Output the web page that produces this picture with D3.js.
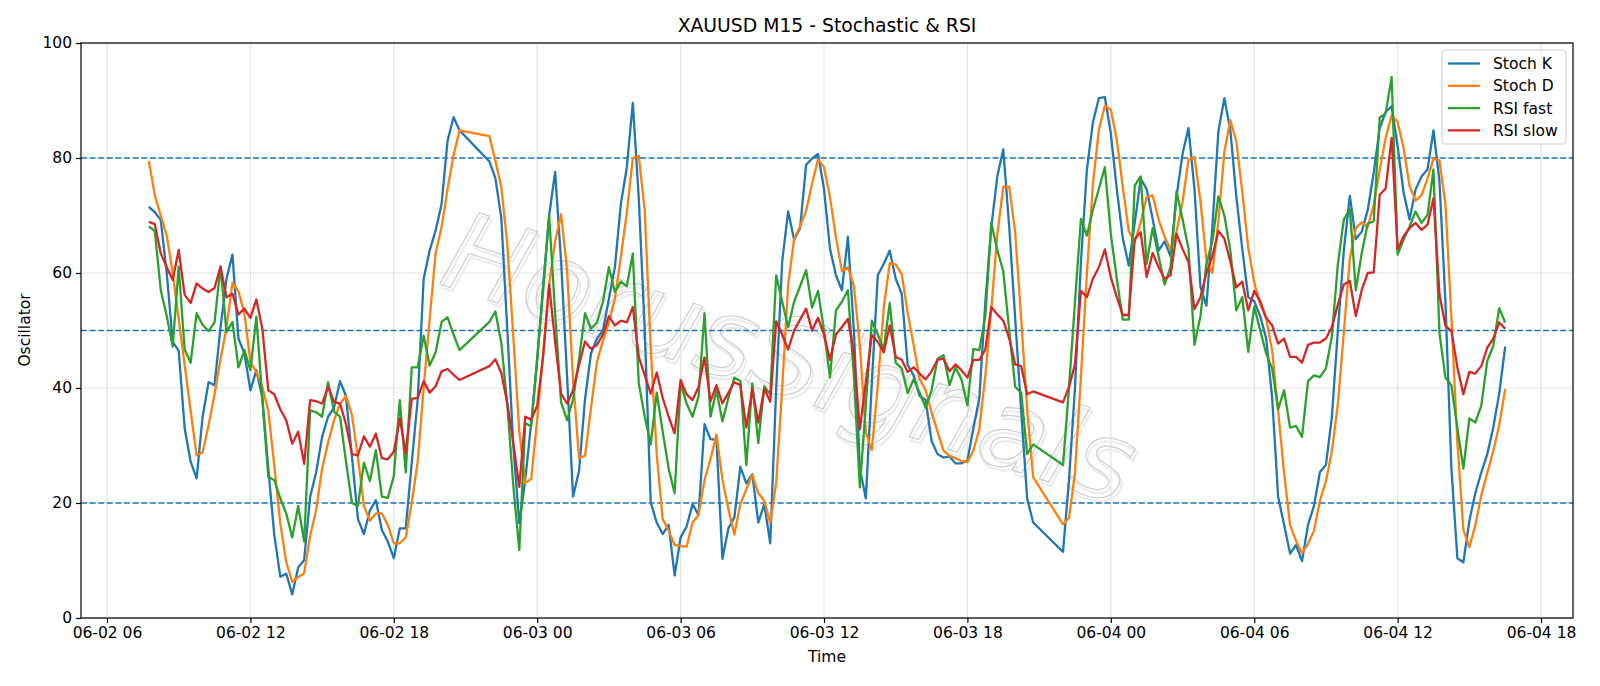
<!DOCTYPE html>
<html>
<head>
<meta charset="utf-8">
<script src="https://cdn.jsdelivr.net/npm/d3@7"></script>
<style>
  html, body { margin: 0; padding: 0; background: #fff; }
  svg { display: block; font-family: "DejaVu Sans", sans-serif; }
</style>
</head>
<body>
<svg id="chart"></svg>
<script>
// 15 minute bars, the market break (21:00 - 21:45) is missing
const segments = [
    ["2025-06-02 07:45", "2025-06-02 20:45"],
    ["2025-06-02 22:00", "2025-06-03 20:45"],
    ["2025-06-03 22:00", "2025-06-04 16:30"]
];

const levels = [20, 50, 80];
const yTicks = [0, 20, 40, 60, 80, 100];
const seriesNames = ["Stoch K", "Stoch D", "RSI fast", "RSI slow"];
const colors = ["#1f77b4", "#ff7f0e", "#2ca02c", "#d62728"];

const stochK = [
    71.5, 70.6, 69.2, 60, 48, 46.5, 33, 27.2, 24.3, 35,
    41, 40.5, 50.5, 59, 63.2, 48.6, 46, 39.6, 43.1, 38.3,
    26, 14.4, 7.2, 7.7, 4.1, 8.8, 10.1, 21.1, 25.3, 31.5,
    35, 36.6, 41.2, 38.6, 28, 17.2, 14.6, 18.7, 20.5, 15.3,
    13.3, 10.4, 15.6, 15.6, 27, 38, 59, 63.9, 67.4, 72,
    83, 87.1, 84.8,
    79.4, 76.5, 69.5, 50, 30, 16.5, 24, 34, 45, 58,
    70, 77.6, 62, 42, 21.1, 25.6, 38, 46, 48.6, 50,
    55.5, 61, 72, 78.4, 89.6, 73, 50, 20.1, 16.6, 14.6,
    16.2, 7.4, 14, 15.9, 19.8, 17.9, 33.7, 31.1, 31, 10.3,
    15.6, 17.5, 26.3, 23.4, 25, 16.6, 19.8, 13, 40, 62,
    70.7, 65.8, 67.8, 78.8, 79.9, 80.7, 74.6, 64.2, 59.6, 57,
    66.3, 50, 26, 20.8, 40.8, 59.6, 61.6, 63.9, 59, 56.4,
    44, 42.2, 38.6, 37.9, 30.8, 28.5, 27.9, 28.1, 26.9, 26.9,
    27.4, 33, 38.3, 55, 68, 76.8, 81.5, 68, 52, 36,
    20.8, 16.6,
    11.5, 24, 40, 62, 78, 86.2, 90.4, 90.6, 84.3, 74.6,
    66.1, 61.3, 68.7, 76.4, 74.6, 69.4, 63.9, 65.5, 62.9, 73.3,
    80.7, 85.2, 74.6, 57.6, 54.3, 68.1, 84.6, 90.4, 84.9, 73.3,
    64.2, 55.8, 55.1, 52.5, 48.6, 38.3, 21.1, 16.2, 11.2, 12.7,
    9.9, 16.2, 19.5, 25.4, 26.6, 35, 50, 64, 73.4, 65.9,
    67.2, 71, 77.4, 85.2, 88, 89, 82, 74, 69.3, 74.5,
    76.8, 78, 84.8, 76, 55, 26, 10.4, 9.7, 16.9, 21.7,
    25.3, 28.5, 33.1, 39, 47.2
];

const stochD = [
    79.5, 73.5, 70, 66.5, 60, 52, 44, 36, 28.3, 28.8,
    33.5, 38.9, 45, 50.5, 58.3, 56.8, 53, 44.5, 42.8, 40.2,
    36, 26.5, 16.5, 9.7, 6.3, 7.1, 7.8, 14.3, 18.8, 26,
    30.5, 34.4, 37.3, 38.6, 35.3, 27.9, 19.5, 16.9, 18.2, 18.2,
    16.2, 13, 13, 14, 20, 27.2, 40, 52, 63.5, 68,
    74.6, 80.5, 84.8,
    83.8, 79.5, 74.9, 65, 49, 32.5, 23.5, 24.2, 34.5, 46,
    58, 65.5, 70.2, 60.5, 41.5, 27.8, 28.2, 36.5, 44.5, 48.2,
    51.4, 55.5, 62.8, 70.5, 80, 80.4, 70.8, 47, 28.5, 17.2,
    15.2, 12.7, 12.5, 12.4, 16.6, 17.9, 24, 27.6, 31.9, 24.1,
    18.9, 14.5, 19.8, 22.4, 24.9, 21.7, 20.4, 16.5, 23.5, 40,
    58, 66, 68.1, 70.8, 75.5, 79.8, 78.4, 73.2, 66.2, 60.3,
    61, 57.8, 47.4, 32.3, 29.2, 40.4, 54, 61.7, 61.5, 59.8,
    53.1, 47.5, 41.6, 39.6, 35.8, 32.4, 29.1, 28.2, 27.8, 27.3,
    27.1, 29.1, 32.9, 42.1, 53.8, 66.6, 75, 75, 67, 52,
    36.3, 24.5,
    16.3, 17.4, 25.2, 42, 60, 75.4, 84.9, 89.1, 88.4, 83.2,
    75, 67.3, 65.4, 68.8, 73.2, 73.5, 69.3, 66.3, 64.1, 67.2,
    72.3, 79.7, 80.2, 72.5, 62.2, 60, 69, 81, 86.6, 82.9,
    74.1, 64.4, 58.4, 54.5, 52.1, 46.5, 36, 25.2, 16.2, 13.4,
    11.3, 12.9, 15.2, 20.4, 23.8, 29, 37.2, 49.7, 62.5, 67.8,
    68.8, 68, 71.9, 77.9, 83.5, 87.4, 86.3, 81.7, 75.1, 72.6,
    73.5, 76.4, 79.9, 79.6, 72, 52.3, 30.5, 15.4, 12.3, 16.1,
    21.3, 25.2, 29, 33.5, 39.8
];

const rsiFast = [
    68.1, 67.3, 57, 52.5, 47.2, 61.1, 46.7, 44.4, 53, 51,
    49.9, 51.4, 61.1, 49.7, 51.5, 43.6, 46.6, 43.1, 52.4, 38,
    24.5, 24, 20.8, 18.2, 14, 19.5, 13.3, 36.1, 35.8, 35,
    41, 35.9, 35, 27.2, 20, 19.5, 27, 23.8, 29.2, 21.1,
    20.9, 24.7, 37.9, 25.3, 43.6, 43.6, 49.1, 43.9, 46.2, 51.5,
    52.3, 49.3, 46.6,
    51.5, 53.3, 47.8, 37, 23, 11.8, 33.9, 33.3, 45, 57,
    70, 53, 37.5, 34.4, 38, 45, 53, 50.3, 51.4, 55,
    61, 56.7, 58.5, 57.7, 63.4, 40.8, 35, 30.2, 39.2, 32.4,
    26, 21.7, 40.8, 37.3, 35, 38.5, 53, 35, 39.6, 34.2,
    38.3, 41.8, 41.2, 26.6, 40.8, 30.4, 40.3, 38.9, 59.6, 55,
    50.6, 55, 57.7, 60.5, 54, 56.9, 50, 41.8, 53.5, 55,
    57, 42, 22.7, 37, 51.7, 49.3, 46.7, 54.8, 44.4, 43.4,
    39.1, 41.5, 39.2, 36.6, 39.6, 45.1, 45.7, 40.5, 43.6, 41.5,
    37, 46.8, 46.6, 52.5, 68.7, 64, 60.3, 50, 40.2, 39.2,
    28.5, 30.2,
    26.6, 40, 55, 69.4, 66.5, 71, 74.6, 78.4, 66.8, 59,
    51.9, 51.9, 75.2, 76.8, 61.6, 67.8, 62.9, 58, 61, 74.2,
    69.4, 64.2, 47.5, 52.5, 61.6, 65.5, 73.3, 70, 64, 53.5,
    55.8, 46.3, 54.2, 50, 46, 43.4, 36.3, 39.6, 33.1, 33.4,
    31.5, 41.2, 42.2, 41.9, 43.4, 49, 61.6, 69.3, 71.1, 57,
    63.5, 68.6, 69, 87, 87.8, 94.1, 63.2, 65.8, 68.1, 70.7,
    68.7, 70.1, 78, 49.6, 41.8, 40.5, 33, 26, 34.7, 34,
    36.9, 44.7, 47.3, 53.9, 51.4
];

const rsiSlow = [
    68.9, 68.5, 63.4, 61, 58.8, 64, 56.2, 54.8, 58.2, 57.3,
    56.7, 57.4, 61.1, 55.8, 56.4, 52.8, 53.8, 52.2, 55.4, 50.3,
    39.6, 38.9, 36.3, 34.4, 30.3, 32.4, 26.8, 37.9, 37.7, 37.3,
    40.2, 37.6, 37.3, 33.7, 28.5, 28.3, 31.6, 29.8, 32.1, 27.8,
    27.6, 28.9, 34.7, 28.7, 38.1, 38.3, 41.2, 39.2, 40.3, 42.9,
    43.3, 42.3, 41.4,
    43.8, 45, 42.6, 37.3, 30.4, 22.8, 35, 34.5, 36.9, 45.6,
    58, 48, 39, 37.3, 39.6, 44, 48.1, 46.8, 47.5, 49.3,
    52.5, 50.9, 51.7, 51.4, 54.1, 45.4, 42.2, 39, 42.7, 38.3,
    35, 32.1, 41.4, 38.9, 37.9, 40.2, 45.3, 37.7, 40.5, 37.3,
    39.2, 41, 40.5, 33.1, 39.9, 34, 39.9, 37.6, 51.6, 49.3,
    46.7, 50, 51.9, 53.8, 50, 52.2, 49.3, 44.9, 49.3, 50.6,
    52, 46, 32.8, 41, 49.2, 48, 46.2, 50.9, 45.4, 44.9,
    42.8, 43.6, 42.5, 41.5, 42.9, 44.9, 45.1, 42.9, 44.1, 43.1,
    41.8, 44.9, 44.9, 46.7, 54.1, 52.8, 51.7, 48.6, 44.1, 43.8,
    38.9, 39.4,
    37.5, 40.2, 44.1, 56.9, 55.8, 59, 61, 64.1, 59.3, 55.8,
    52.7, 52.7, 65.9, 67.1, 59.3, 63.5, 61, 59, 59.6, 66.8,
    64.2, 61.9, 53.7, 55.8, 60, 62.9, 67.3, 66, 62, 57.5,
    58.5, 53.5, 56.9, 55.1, 52.2, 50.9, 47.7, 48.6, 45.4, 45.4,
    44.4, 47.5, 47.9, 47.9, 48.6, 50.6, 54.5, 58, 58.6, 52.5,
    57.1, 60, 60.1, 73.6, 74.7, 83.5, 64.1, 66.4, 67.8, 68.7,
    67.5, 68.4, 73, 56.3, 50.8, 49.9, 43.6, 38.9, 42.8, 42.5,
    43.8, 47, 48.6, 51.4, 50.3
];

const width = 1600;
const height = 686;
const plot = { left: 81, right: 1573, top: 43, bottom: 618 };

const parseTime = d3.timeParse("%Y-%m-%d %H:%M");
const times = segments.flatMap(([a, b]) =>
    d3.timeMinute.every(15).range(parseTime(a), new Date(+parseTime(b) + 1)));

const series = [stochK, stochD, rsiFast, rsiSlow].map((vals, k) => ({
    name: seriesNames[k],
    color: colors[k],
    points: vals.map((v, i) => ({ t: times[i], v: v }))
}));

const svg = d3.select('#chart')
    .attr('width', width)
    .attr('height', height);

// matplotlib style 5% margin on the time axis
const t0 = times[0], t1 = times[times.length - 1];
const pad = (t1 - t0) * 0.05;
const x = d3.scaleTime()
    .domain([new Date(+t0 - pad), new Date(+t1 + pad)])
    .range([plot.left, plot.right]);

const y = d3.scaleLinear()
    .domain([0, 100])
    .range([plot.bottom, plot.top]);

const xTicks = x.ticks(d3.timeHour.every(6));
const fmt = d3.timeFormat("%m-%d %H");

// grid
const grid = svg.append('g');
grid.selectAll('.gx')
    .data(xTicks)
    .enter()
    .append('line')
    .attr('x1', d => x(d)).attr('x2', d => x(d))
    .attr('y1', plot.top).attr('y2', plot.bottom)
    .attr('stroke', '#b0b0b0').attr('stroke-opacity', 0.35).attr('stroke-width', 1.2);
grid.selectAll('.gy')
    .data(yTicks)
    .enter()
    .append('line')
    .attr('x1', plot.left).attr('x2', plot.right)
    .attr('y1', d => y(d)).attr('y2', d => y(d))
    .attr('stroke', '#b0b0b0').attr('stroke-opacity', 0.35).attr('stroke-width', 1.2);

// watermark
const wm = svg.append('g')
    .attr('transform', 'translate(790,358) rotate(18)');
wm.append('text')
    .attr('x', 3).attr('y', 3)
    .attr('text-anchor', 'middle')
    .attr('dominant-baseline', 'central')
    .attr('font-size', 110)
    .attr('font-style', 'italic')
    .attr('fill', 'none')
    .attr('stroke', '#ececec')
    .attr('stroke-width', 2)
    .text('HorusSignals');
wm.append('text')
    .attr('text-anchor', 'middle')
    .attr('dominant-baseline', 'central')
    .attr('font-size', 110)
    .attr('font-style', 'italic')
    .attr('fill', 'none')
    .attr('stroke', '#cfcfcf')
    .attr('stroke-width', 1.2)
    .text('HorusSignals');

// reference levels
svg.selectAll('.level')
    .data(levels)
    .enter()
    .append('line')
    .attr('x1', plot.left).attr('x2', plot.right)
    .attr('y1', d => y(d)).attr('y2', d => y(d))
    .attr('stroke', '#1f77b4')
    .attr('stroke-width', 1.5)
    .attr('stroke-dasharray', '6,2.6');

// series
const line = d3.line()
    .x(d => x(d.t))
    .y(d => y(d.v));

svg.selectAll('.series')
    .data(series)
    .enter()
    .append('path')
    .attr('d', d => line(d.points))
    .attr('fill', 'none')
    .attr('stroke', d => d.color)
    .attr('stroke-width', 2.3)
    .attr('stroke-linejoin', 'round');

// axes
const xAxis = d3.axisBottom(x).tickValues(xTicks).tickFormat(fmt).tickSizeOuter(0).tickSize(5).tickPadding(4);
const yAxis = d3.axisLeft(y).tickValues(yTicks).tickSizeOuter(0).tickSize(5).tickPadding(4);

const gx = svg.append('g')
    .attr('transform', `translate(0,${plot.bottom})`)
    .call(xAxis);
const gy = svg.append('g')
    .attr('transform', `translate(${plot.left},0)`)
    .call(yAxis);

[gx, gy].forEach(g => {
    g.select('.domain').remove();
    g.selectAll('line').attr('stroke', '#000').attr('stroke-width', 1.2);
    g.selectAll('text')
        .attr('font-size', 15.5)
        .attr('font-family', '"DejaVu Sans", sans-serif')
        .attr('fill', '#000');
});

// frame
svg.append('rect')
    .attr('x', plot.left).attr('y', plot.top)
    .attr('width', plot.right - plot.left)
    .attr('height', plot.bottom - plot.top)
    .attr('fill', 'none')
    .attr('stroke', '#000')
    .attr('stroke-width', 1.2);

// title and labels
svg.append('text')
    .attr('x', (plot.left + plot.right) / 2)
    .attr('y', 32)
    .attr('text-anchor', 'middle')
    .attr('font-size', 18.8)
    .text('XAUUSD M15 - Stochastic & RSI');

svg.append('text')
    .attr('x', (plot.left + plot.right) / 2)
    .attr('y', 662)
    .attr('text-anchor', 'middle')
    .attr('font-size', 15.5)
    .text('Time');

svg.append('text')
    .attr('transform', 'translate(30,330) rotate(-90)')
    .attr('text-anchor', 'middle')
    .attr('font-size', 15.5)
    .text('Oscillator');

// legend
const legend = svg.append('g').attr('transform', 'translate(1442,50)');
legend.append('rect')
    .attr('width', 124).attr('height', 94)
    .attr('rx', 3)
    .attr('fill', '#fff').attr('fill-opacity', 0.8)
    .attr('stroke', '#cccccc');

const rows = legend.selectAll('.row')
    .data(series)
    .enter()
    .append('g')
    .attr('transform', (d, i) => `translate(0,${13.5 + i * 22.3})`);
rows.append('line')
    .attr('x1', 6).attr('x2', 38)
    .attr('stroke', d => d.color)
    .attr('stroke-width', 2.3);
rows.append('text')
    .attr('x', 51)
    .attr('dy', '0.35em')
    .attr('font-size', 15.5)
    .text(d => d.name);
</script>
</body>
</html>
